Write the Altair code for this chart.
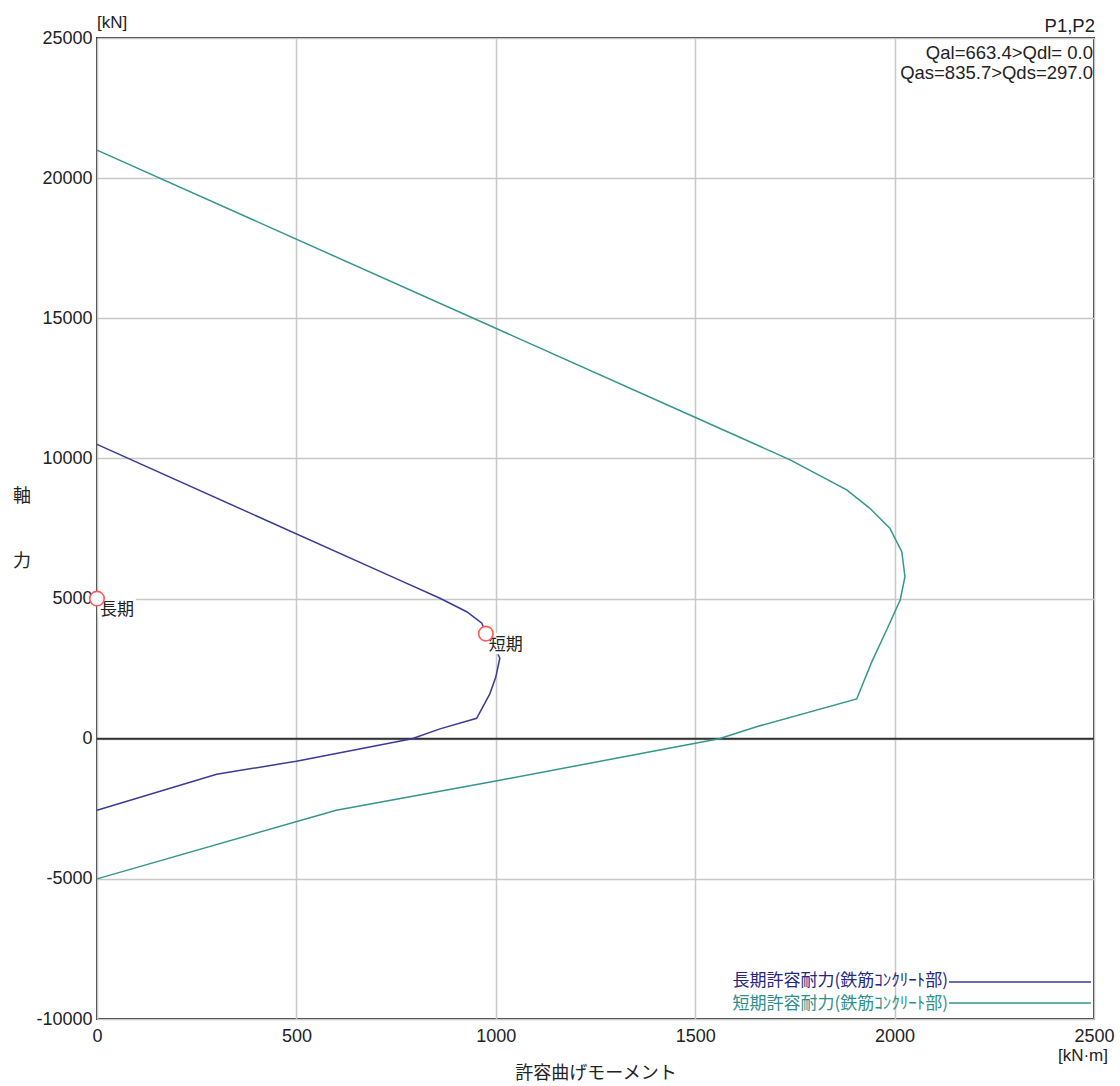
import altair as alt
import pandas as pd

# Long-term allowable capacity (鉄筋コンクリート部)
long_m = [0, 760, 860, 927, 965, 975, 995, 1010, 1000, 985, 952, 860, 790, 500, 300, 0]
long_n = [10500, 5650, 5010, 4530, 4120, 3760, 3350, 2870, 2200, 1600, 730, 350, 0, -800, -1270, -2550]

# Short-term allowable capacity
short_m = [0, 1460, 1738, 1880, 1938, 1988, 2018, 2026, 2014, 1980, 1943, 1905, 1654, 1560, 1000, 600, 0]
short_n = [21000, 11720, 9950, 8880, 8220, 7510, 6670, 5780, 4950, 3880, 2750, 1420, 430, 0, -1510, -2550, -5000]

# Design points
pt_m = [0, 975]
pt_n = [5000, 3750]
pt_label = ["長期", "短期"]

x_ticks = [0, 500, 1000, 1500, 2000, 2500]
y_ticks = [-10000, -5000, 0, 5000, 10000, 15000, 20000, 25000]

legend_labels = ["長期許容耐力(鉄筋ｺﾝｸﾘｰﾄ部)", "短期許容耐力(鉄筋ｺﾝｸﾘｰﾄ部)"]
info_lines = ["Qal=663.4>Qdl= 0.0", "Qas=835.7>Qds=297.0"]

NAVY = "#3a3a98"
TEAL = "#35958f"
NUMFONT = "Liberation Sans"
JPFONT = "Noto Sans CJK JP"

W, H = 997, 981

df = pd.concat([
    pd.DataFrame({"m": long_m, "n": long_n, "s": "long", "o": range(len(long_m))}),
    pd.DataFrame({"m": short_m, "n": short_n, "s": "short", "o": range(len(short_m))}),
])

xs = alt.Scale(domain=[0, 2500], nice=False, zero=False)
ys = alt.Scale(domain=[-10000, 25000], nice=False, zero=False)

xaxis = alt.Axis(values=x_ticks, title="許容曲げモーメント", titleFont=JPFONT, titleFontSize=18,
                 titleFontWeight="normal", titleColor="#222", titleY=54, titleBaseline="middle",
                 labelFont=NUMFONT, labelFontSize=18, labelColor="#222", labelPadding=8,
                 labelFlush=False, ticks=False, domain=False, grid=True,
                 gridColor="#c8c8c8", gridWidth=1.5, format="d")
yaxis = alt.Axis(values=y_ticks, title=None, labelFont=NUMFONT, labelFontSize=18,
                 labelColor="#222", labelPadding=5, labelFlush=False, ticks=False,
                 domain=False, grid=True, gridColor="#c8c8c8", gridWidth=1.5, format="d",
                 labelExpr="replace(datum.label, '\u2212', '-')")

zero = alt.Chart(pd.DataFrame({"n": [0]})).mark_rule(color="#333333", strokeWidth=2).encode(
    y=alt.Y("n:Q", scale=ys, axis=yaxis))

lines = alt.Chart(df).mark_line(strokeWidth=1.5).encode(
    x=alt.X("m:Q", scale=xs, axis=xaxis),
    y=alt.Y("n:Q", scale=ys, axis=yaxis),
    color=alt.Color("s:N", scale=alt.Scale(domain=["long", "short"], range=[NAVY, TEAL]), legend=None),
    order="o:Q",
    detail="s:N",
)

pdf = pd.DataFrame({"m": pt_m, "n": pt_n, "t": pt_label})
halo = alt.Chart(pdf).mark_text(align="left", baseline="top", dx=3, dy=3, font=JPFONT, fontSize=17,
                                 stroke="white", strokeWidth=6, color="white").encode(
    x=alt.X("m:Q", scale=xs), y=alt.Y("n:Q", scale=ys), text="t:N")
ptext = alt.Chart(pdf).mark_text(align="left", baseline="top", dx=3, dy=3, font=JPFONT, fontSize=17,
                                  color="#222").encode(
    x=alt.X("m:Q", scale=xs), y=alt.Y("n:Q", scale=ys), text="t:N")
points = alt.Chart(pdf).mark_point(shape="circle", size=210, filled=False, fill="white", fillOpacity=1,
                                    stroke="#ff5a5a", strokeWidth=1.6, opacity=1).encode(
    x=alt.X("m:Q", scale=xs), y=alt.Y("n:Q", scale=ys))


def txt(s, x, y, align="left", size=17, font=NUMFONT, color="#222", baseline="middle"):
    return alt.Chart(pd.DataFrame({"t": [s]})).mark_text(
        align=align, baseline=baseline, fontSize=size, font=font, color=color).encode(
        text="t:N", x=alt.value(x), y=alt.value(y))


annots = [
    txt("[kN]", 0, -15),
    txt("[kN·m]", 1011, 1018, align="right"),
    txt("P1,P2", 998, -12, align="right", size=18.5),
    txt(info_lines[0], 996, 15, align="right", size=18.5),
    txt(info_lines[1], 996, 35, align="right", size=18.5),
    txt("軸", -75, 459, align="center", size=18, font=JPFONT),
    txt("力", -75, 524, align="center", size=18, font=JPFONT),
    txt(legend_labels[0], 851, 943, align="right", size=17, font=JPFONT, color="#262680"),
    txt(legend_labels[1], 851, 966, align="right", size=17, font=JPFONT, color="#2f8f8a"),
]

leg_rules = [
    alt.Chart(pd.DataFrame({"a": [0]})).mark_rule(color=NAVY, strokeWidth=1.5).encode(
        x=alt.value(852), x2=alt.value(994), y=alt.value(944)),
    alt.Chart(pd.DataFrame({"a": [0]})).mark_rule(color=TEAL, strokeWidth=1.5).encode(
        x=alt.value(852), x2=alt.value(994), y=alt.value(965)),
]

chart = alt.layer(zero, lines, halo, ptext, points, *annots, *leg_rules).properties(
    width=W, height=H,
    padding={"left": 97, "top": 38, "right": 26, "bottom": 67},
    autosize="none",
    background="white",
).configure_view(stroke="#333333", strokeWidth=2)

chart.save("out.html", embed_options={"renderer": "svg", "actions": False})
